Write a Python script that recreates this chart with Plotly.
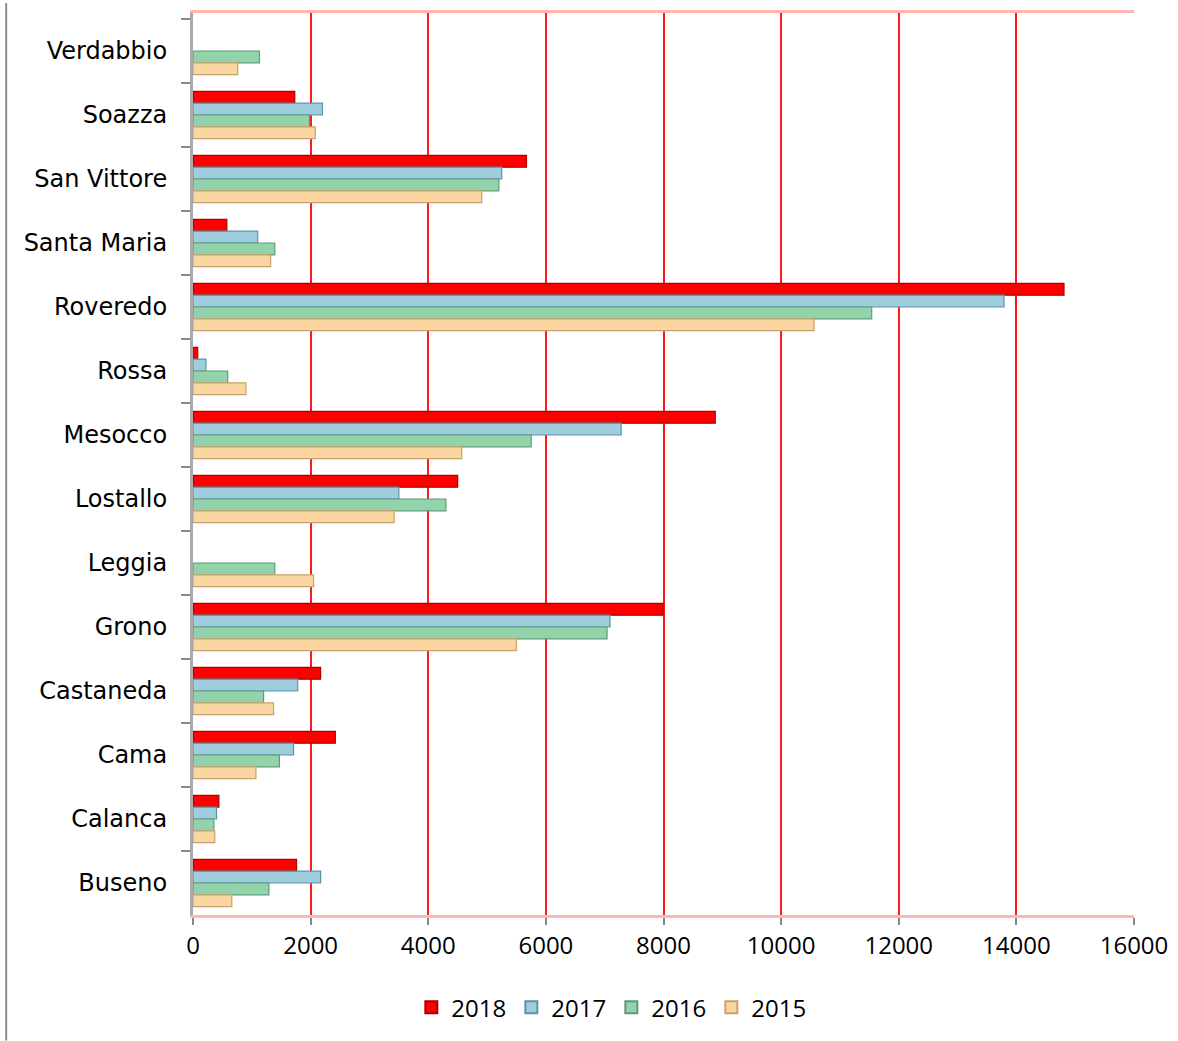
import plotly.graph_objects as go

categories = ["Verdabbio", "Soazza", "San Vittore", "Santa Maria", "Roveredo", "Rossa",
              "Mesocco", "Lostallo", "Leggia", "Grono", "Castaneda", "Cama", "Calanca", "Buseno"]

v2018 = [None, 1730, 5670, 575, 14810, 80, 8880, 4500, None, 7990, 2170, 2420, 440, 1760]
v2017 = [None, 2200, 5250, 1100, 13790, 220, 7280, 3500, None, 7090, 1780, 1710, 400, 2170]
v2016 = [1130, 1980, 5200, 1390, 11540, 590, 5750, 4300, 1390, 7040, 1200, 1470, 355, 1290]
v2015 = [760, 2080, 4910, 1320, 10560, 900, 4570, 3420, 2050, 5500, 1370, 1070, 370, 660]

series_names = ["2018", "2017", "2016", "2015"]
series_values = [v2018, v2017, v2016, v2015]
fill_colors = ["#FF0000", "#9ECDE0", "#93D3AC", "#F9D6A0"]
line_colors = ["#B00000", "#5E93A6", "#5E9C77", "#C7A26C"]

x_ticks = [0, 2000, 4000, 6000, 8000, 10000, 12000, 14000, 16000]

fig = go.Figure()
for name, vals, fc, lc in zip(series_names, series_values, fill_colors, line_colors):
    fig.add_trace(go.Bar(
        y=categories, x=vals, name=name, orientation="h",
        marker=dict(color=fc, line=dict(color=lc, width=1.2)),
    ))

W, H = 1178, 1041
L, R, T, B = 193, 38, 10, 126
pw, ph = W - L - R, H - T - B

def px_to_paper_x(px):
    return (px - L) / pw

def px_to_paper_y(py):
    return (H - B - py) / ph

n = len(categories)
top_pad = 6 / ((ph - 6) / n)

fig.update_layout(
    width=W, height=H,
    margin=dict(l=L, r=R, t=T, b=B, pad=0),
    paper_bgcolor="white", plot_bgcolor="white",
    barmode="group", bargap=0.26, bargroupgap=0,
    font=dict(family="DejaVu Sans", color="black"),
    showlegend=True,
    legend=dict(
        orientation="h", x=px_to_paper_x(614), xanchor="center",
        y=px_to_paper_y(1008), yanchor="middle",
        traceorder="normal",
        font=dict(family="Open Sans", size=24, color="black"),
        entrywidth=55, entrywidthmode="pixels",
        itemsizing="constant",
    ),
    xaxis=dict(
        range=[0, 16000], tickvals=x_ticks, ticktext=[str(t) for t in x_ticks],
        showgrid=True, gridcolor="#FF1A1A", gridwidth=2,
        zeroline=False,
        showline=True, linecolor="#FFB8B0", linewidth=3, mirror=True,
        ticks="outside", ticklen=7, tickcolor="#888888", tickwidth=2,
        tickfont=dict(family="Open Sans", size=24, color="black"),
        fixedrange=True,
    ),
    yaxis=dict(
        categoryorder="array", categoryarray=categories,
        range=[n - 0.5, -0.5 - top_pad],
        showgrid=False, zeroline=False,
        showline=True, linecolor="#AAAAAA", linewidth=3,
        ticks="outside", ticklen=9, tickcolor="#888888", tickwidth=2,
        tickson="boundaries",
        tickfont=dict(family="DejaVu Sans", size=24, color="black"),
        ticklabelstandoff=18,
        fixedrange=True,
    ),
)

fig.add_shape(
    type="line", xref="paper", yref="paper",
    x0=px_to_paper_x(5), x1=px_to_paper_x(5),
    y0=px_to_paper_y(0), y1=px_to_paper_y(H),
    line=dict(color="#8C8C8C", width=2),
)

fig.write_html("out.html")
